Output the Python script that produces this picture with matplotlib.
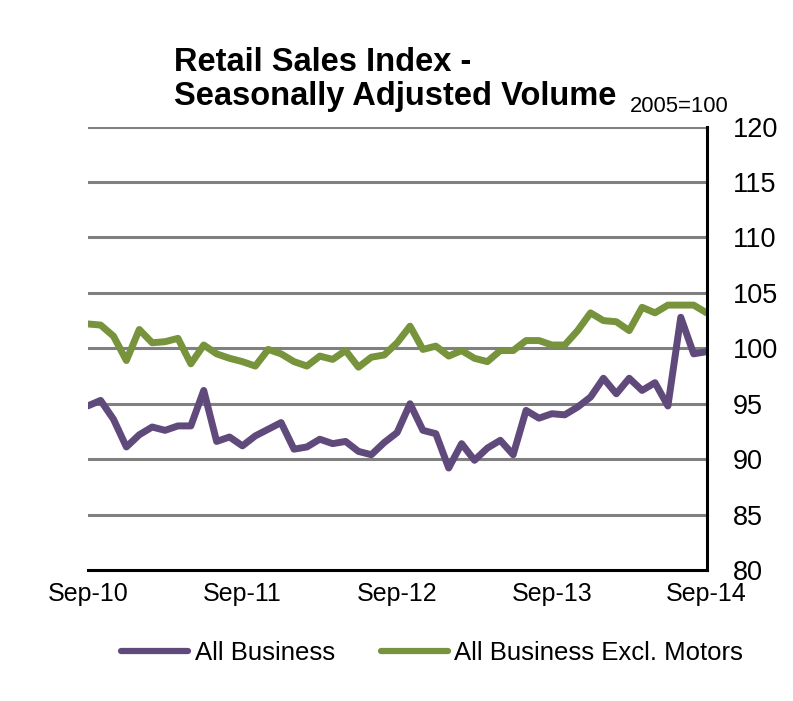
import numpy as np
import matplotlib
matplotlib.use("Agg")
from matplotlib import pyplot as plt

plt.rcParams['font.family'] = ['Liberation Sans', 'DejaVu Sans']

# monthly, Sep-10 .. Sep-14
tick_labels = ['Sep-10', 'Sep-11', 'Sep-12', 'Sep-13', 'Sep-14']

all_business = [94.8, 95.3, 93.6, 91.1, 92.2, 92.9, 92.6, 93.0, 93.0, 96.2,
                91.6, 92.0, 91.2, 92.1, 92.7, 93.3, 90.9, 91.1, 91.8, 91.4,
                91.6, 90.7, 90.4, 91.5, 92.4, 95.0, 92.6, 92.3, 89.2, 91.4,
                89.9, 91.0, 91.7, 90.4, 94.4, 93.7, 94.1, 94.0, 94.7, 95.6,
                97.3, 95.9, 97.3, 96.2, 96.9, 94.8, 102.8, 99.5, 99.7]

excl_motors = [102.2, 102.1, 101.1, 98.9, 101.7, 100.5, 100.6, 100.9, 98.6, 100.3,
               99.5, 99.1, 98.8, 98.4, 99.9, 99.5, 98.8, 98.4, 99.3, 99.0,
               99.8, 98.3, 99.2, 99.4, 100.5, 102.0, 99.9, 100.2, 99.3, 99.8,
               99.1, 98.8, 99.8, 99.8, 100.7, 100.7, 100.3, 100.3, 101.6, 103.2,
               102.5, 102.4, 101.6, 103.7, 103.2, 103.9, 103.9, 103.9, 103.2]

purple = '#604A7B'
green = '#77933C'

x = np.arange(len(all_business))

fig = plt.figure(figsize=(7.93, 7.01), dpi=100)
ax = fig.add_axes([0.1106, 0.1869, 0.7804, 0.6324])

ax.plot(x, all_business, color=purple, lw=5, label='All Business',
        solid_capstyle='round', solid_joinstyle='round')
ax.plot(x, excl_motors, color=green, lw=5, label='All Business Excl. Motors',
        solid_capstyle='round', solid_joinstyle='round')

ax.set_xlim(0, len(x) - 1)
ax.set_ylim(80, 120)
ax.set_yticks(range(80, 121, 5))
ax.set_xticks(range(0, len(x), 12))
ax.set_xticklabels(tick_labels)

for y in range(85, 121, 5):
    ax.axhline(y, color='#808080', lw=2.2, zorder=0)

ax.yaxis.tick_right()
ax.tick_params(axis='y', length=0, pad=19, labelsize=19.5)
ax.tick_params(axis='x', length=0, pad=9, labelsize=18)
for lab in ax.get_yticklabels():
    lab.set_horizontalalignment('left')

ax.spines['left'].set_visible(False)
ax.spines['top'].set_visible(False)
ax.spines['right'].set_linewidth(2.2)
ax.spines['bottom'].set_linewidth(2.2)

fig.text(0.219, 0.8987, 'Retail Sales Index -', fontsize=23.5,
         fontweight='bold', ha='left', va='baseline')
fig.text(0.219, 0.850, 'Seasonally Adjusted Volume', fontsize=23.5,
         fontweight='bold', ha='left', va='baseline')
fig.text(0.7945, 0.8407, '2005=100', fontsize=15.8, ha='left', va='baseline')

leg = fig.legend(loc='center', bbox_to_anchor=(0.545, 0.069), ncol=2,
                 frameon=False, fontsize=18.5, handlelength=2.6,
                 handletextpad=0.25, columnspacing=1.8)
for h in leg.get_lines():
    h.set_solid_capstyle('round')
    h.set_linewidth(4.5)

fig.savefig('out.png', dpi=100)
